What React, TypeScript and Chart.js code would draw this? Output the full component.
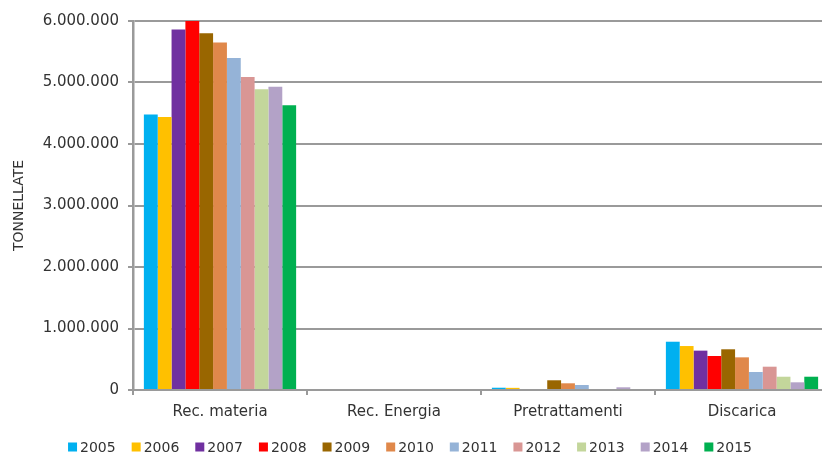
import React, { useEffect, useRef } from "react";
import { Chart, registerables } from "chart.js";

Chart.register(...registerables);

const categories = ["Rec. materia", "Rec. Energia", "Pretrattamenti", "Discarica"];
const years = ["2005", "2006", "2007", "2008", "2009", "2010", "2011", "2012", "2013", "2014", "2015"];
const yearColors = [
  "#00B0F0", "#FFC000", "#7030A0", "#FF0000", "#996600", "#E0884A",
  "#95B3D7", "#D99694", "#C3D69B", "#B3A2C7", "#00B050",
];
const recMateria = [4480000, 4440000, 5860000, 6000000, 5800000, 5650000, 5400000, 5090000, 4890000, 4930000, 4630000];
const recEnergia = [0, 0, 0, 0, 0, 0, 0, 0, 0, 0, 0];
const pretrattamenti = [37000, 35000, 0, 0, 158000, 109000, 81000, 0, 0, 44000, 0];
const discarica = [785000, 715000, 640000, 553000, 662000, 531000, 293000, 379000, 216000, 125000, 216000];
const yTicks = [0, 1000000, 2000000, 3000000, 4000000, 5000000, 6000000];

const FONT = "'DejaVu Sans', Verdana, sans-serif";
const TEXT = "#333333";
const GRID = "#9a9a9a";

function fmt(v: number): string {
  const s = Math.round(v).toString();
  return s.replace(/\B(?=(\d{3})+(?!\d))/g, ".");
}

const legendPlugin = {
  id: "customLegend",
  afterDraw(chart: any) {
    const ctx = chart.ctx;
    ctx.save();
    ctx.font = `14px ${FONT}`;
    ctx.textBaseline = "middle";
    ctx.textAlign = "left";
    const box = 9;
    const gap = 3;
    const spacing = 16;
    const widths = years.map((y) => box + gap + ctx.measureText(y).width);
    const total = widths.reduce((a, b) => a + b, 0) + spacing * (years.length - 1);
    let x = 410 - total / 2;
    const cy = 447;
    years.forEach((y, i) => {
      ctx.fillStyle = yearColors[i];
      ctx.fillRect(x, cy - box / 2, box, box);
      ctx.fillStyle = TEXT;
      ctx.fillText(y, x + box + gap, cy + 1);
      x += widths[i] + spacing;
    });
    ctx.restore();
  },
};

export default function App() {
  const ref = useRef<HTMLCanvasElement | null>(null);

  useEffect(() => {
    if (!ref.current) return;
    const datasets = years.map((y, i) => ({
      label: y,
      data: [recMateria[i], recEnergia[i], pretrattamenti[i], discarica[i]],
      backgroundColor: yearColors[i],
      borderWidth: 0,
      categoryPercentage: 0.875,
      barPercentage: 1.0,
    }));
    const chart = new Chart(ref.current, {
      type: "bar",
      data: { labels: categories, datasets },
      plugins: [legendPlugin],
      options: {
        responsive: false,
        animation: false,
        layout: { padding: { top: 21, left: 0, right: 0, bottom: 0 } },
        plugins: {
          legend: { display: false },
          tooltip: { enabled: false },
          title: { display: false },
        },
        scales: {
          x: {
            grid: {
              display: true,
              drawOnChartArea: false,
              drawTicks: true,
              tickLength: 5,
              color: GRID,
              lineWidth: 2,
              offset: true,
            },
            border: { display: true, color: GRID, width: 2 },
            ticks: {
              color: TEXT,
              font: { family: FONT, size: 15 },
              padding: 8,
              maxRotation: 0,
            },
            afterFit(scale: any) {
              scale.height = 64;
            },
          },
          y: {
            min: 0,
            max: 6000000,
            afterBuildTicks(scale: any) {
              scale.ticks = yTicks.map((v) => ({ value: v }));
            },
            grid: {
              color: GRID,
              lineWidth: 2,
              drawTicks: true,
              tickLength: 5,
            },
            border: { display: true, color: GRID, width: 2.5 },
            ticks: {
              color: TEXT,
              font: { family: FONT, size: 15 },
              padding: 9,
              callback: (v: any) => fmt(Number(v)),
            },
            title: {
              display: true,
              text: "TONNELLATE",
              color: TEXT,
              font: { family: FONT, size: 14 },
              padding: { top: 11, bottom: 0 },
            },
            afterFit(scale: any) {
              scale.width = 133;
            },
          },
        },
      },
    });
    return () => chart.destroy();
  }, []);

  return (
    <div style={{ position: "absolute", left: 0, top: 0, width: 822, height: 454, overflow: "hidden", background: "#fff" }}>
      <canvas ref={ref} width={829} height={454} style={{ display: "block", width: 829, height: 454 }} />
    </div>
  );
}
